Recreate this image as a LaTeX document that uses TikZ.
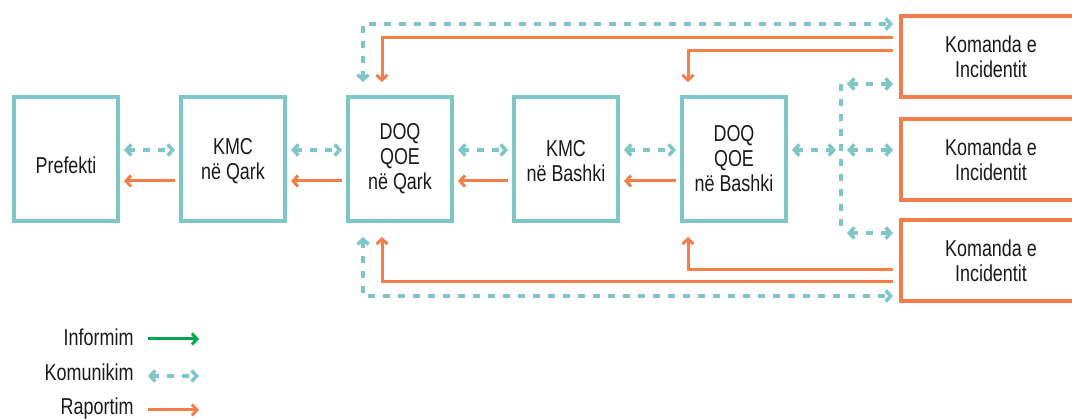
\documentclass[tikz,border=0pt]{standalone}
\usepackage{fontspec}
\setmainfont{Liberation Sans}[FakeStretch=0.78]
\usetikzlibrary{arrows.meta}
\definecolor{tealc}{HTML}{7EC6C8}
\definecolor{orangec}{HTML}{F47D4A}
\definecolor{greenc}{HTML}{00A650}
\definecolor{txtc}{HTML}{1A1A1A}
\begin{document}
\begin{tikzpicture}[x=1pt,y=-1pt,
  every node/.style={font=\fontsize{23}{25}\selectfont, text=txtc},
  tbox/.style={draw=tealc, line width=4pt, minimum width=104pt, minimum height=124pt, align=center, inner sep=0pt},
  obox/.style={draw=orangec, line width=4pt, minimum width=180pt, minimum height=81pt, align=center, inner sep=0pt},
  comline/.style={draw=tealc, line width=3.5pt, dash pattern=on 7pt off 8pt},
  com/.style={comline, {Straight Barb[length=5pt,width=11pt]}-{Straight Barb[length=5pt,width=11pt]}},
  rep/.style={draw=orangec, line width=3pt, -{Straight Barb[length=5pt,width=11pt]}},
  inf/.style={draw=greenc, line width=3pt, -{Straight Barb[length=5pt,width=11pt]}},
  leg/.style={anchor=base east}
]
\useasboundingbox (0,0) rectangle (1072,419);
\clip (0,0) rectangle (1072,419);

\node[tbox] (pre) at (66,159) {\raisebox{0pt}[28.5pt][0pt]{Prefekti}};
\node[tbox] (kq) at (233,159) {\raisebox{0pt}[20pt][0pt]{KMC}\\në Qark};
\node[tbox] (dq) at (400,159) {DOQ\\QOE\\në Qark};
\node[tbox] (kb) at (566,159) {\raisebox{0pt}[20pt][0pt]{KMC}\\në Bashki};
\node[tbox] (db) at (734,159) {DOQ\\QOE\\në Bashki};

\node[obox] (k1) at (991,56.5) {Komanda e\\Incidentit};
\node[obox] (k2) at (991,160) {Komanda e\\Incidentit};
\node[obox] (k3) at (991,261) {Komanda e\\Incidentit};

\foreach \a/\b in {pre/kq,kq/dq,dq/kb,kb/db}{
  \draw[com] ([xshift=4pt,yshift=9pt]\a.east) -- ([xshift=-4pt,yshift=9pt]\b.west);
  \draw[rep] ([xshift=-4pt,yshift=-22pt]\b.west) -- ([xshift=4pt,yshift=-22pt]\a.east);
}

% right side communication
\coordinate (jt) at (841,84);
\coordinate (jb) at (841,233);
\draw[com] ([xshift=4pt,yshift=9pt]db.east) -- ([xshift=-5pt,yshift=9pt]db.east -| jt);
\draw[comline] (jt) -- (jb);
\draw[com] ([xshift=6pt]jt) -- ([xshift=-6pt]jt -| k1.west);
\draw[com] ([xshift=6pt,yshift=9pt]db.east -| jt) -- ([xshift=-6pt,yshift=9pt]db.east -| k2.west);
\draw[com] ([xshift=6pt]jb) -- ([xshift=-6pt]jb -| k3.west);

% top connectors
\draw[com] ([xshift=-37pt,yshift=13pt]dq.north) |- ([xshift=-6pt,yshift=32.5pt]k1.west);
\draw[rep] ([xshift=-6pt,yshift=18.5pt]k1.west) -| ([xshift=-18pt,yshift=13pt]dq.north);
\draw[rep] ([xshift=-6pt,yshift=5.5pt]k1.west) -| ([xshift=-46pt,yshift=13pt]db.north);

% bottom connectors
\draw[rep] ([xshift=-6pt,yshift=-9pt]k3.west) -| ([xshift=-46pt,yshift=-14pt]db.south);
\draw[rep] ([xshift=-6pt,yshift=-21pt]k3.west) -| ([xshift=-18pt,yshift=-14pt]dq.south);
\draw[com] ([xshift=-37pt,yshift=-14pt]dq.south) |- ([xshift=-6pt,yshift=-35pt]k3.west);

% legend
\node[leg] (l1) at (137,346) {Informim};
\node[leg] (l2) at (137,381) {Komunikim};
\node[leg] (l3) at (137,415) {Raportim};
\coordinate (e1) at (199,339);
\coordinate (e2) at (199,376);
\coordinate (e3) at (199,410);
\draw[inf] (148,339) -- (e1);
\draw[com] (148,376) -- (e2);
\draw[rep] (148,410) -- (e3);
\end{tikzpicture}
\end{document}
